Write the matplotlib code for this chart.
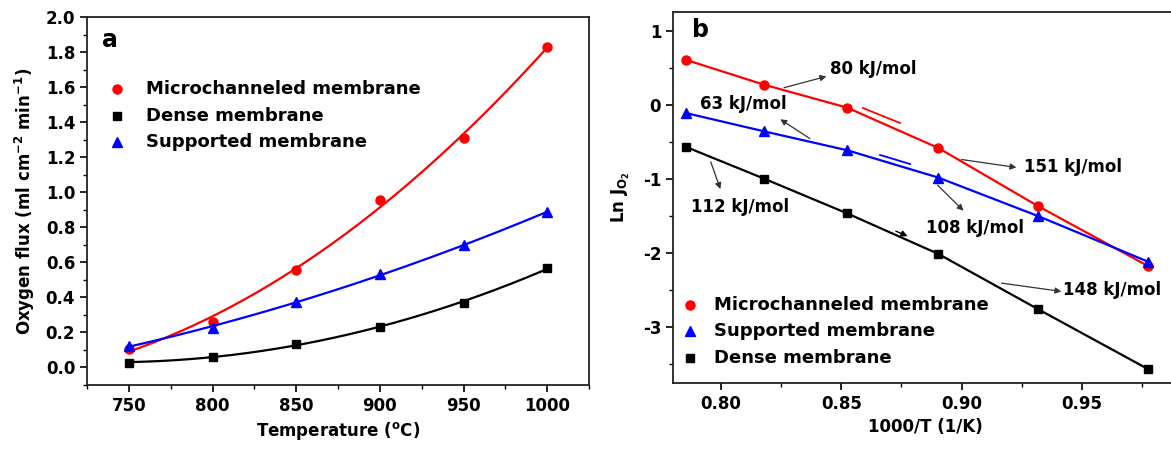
import numpy as np
import matplotlib
matplotlib.use('Agg')
import matplotlib.pyplot as plt
from matplotlib.ticker import MultipleLocator

plt.rcParams['font.family'] = ['DejaVu Sans']
plt.rcParams['font.weight'] = 'bold'
plt.rcParams['mathtext.default'] = 'bf'

# panel a data
temp = [750, 800, 850, 900, 950, 1000]
flux_micro = [0.108, 0.26, 0.558, 0.957, 1.312, 1.826]
flux_dense = [0.028, 0.061, 0.133, 0.231, 0.37, 0.567]
flux_supp = [0.123, 0.227, 0.373, 0.531, 0.698, 0.887]

# panel b data
inv_t = [0.7854, 0.8177, 0.8525, 0.8903, 0.9318, 0.9774]
ln_micro = [0.605, 0.272, -0.04, -0.582, -1.366, -2.171]
ln_supp = [-0.112, -0.357, -0.614, -0.981, -1.50, -2.113]
ln_dense = [-0.568, -0.994, -1.465, -2.01, -2.755, -3.56]

# activation energy labels: text, text pos, arrow tail, arrow head
ea_labels = [
    ('80 kJ/mol', (0.8454, 0.485), (0.8262, 0.23), (0.8438, 0.382)),
    ('63 kJ/mol', (0.7911, 0.015), (0.8369, -0.456), (0.8246, -0.196)),
    ('112 kJ/mol', (0.7874, -1.374), (0.7957, -0.769), (0.7997, -1.137)),
    ('151 kJ/mol', (0.9258, -0.837), (0.900, -0.738), (0.9228, -0.845)),
    ('108 kJ/mol', (0.8854, -1.665), (0.890, -1.083), (0.9008, -1.428)),
    ('148 kJ/mol', (0.9423, -2.494), (0.9166, -2.404), (0.9415, -2.516)),
]

RED = '#ff0000'
BLUE = '#0000ff'
BLK = '#000000'

fig = plt.figure(figsize=(11.71, 4.5), dpi=100)
ax1 = fig.add_axes([87/1171, 65/450, 502/1171, 368/450])
ax2 = fig.add_axes([673/1171, 67/450, 505/1171, 371/450])

def style_axis(ax):
    for s in ax.spines.values():
        s.set_linewidth(1.3)
        s.set_color('#222222')
    ax.tick_params(which='major', direction='out', length=5, width=1.2,
                   labelsize=12, top=False, right=False)
    ax.tick_params(which='minor', direction='out', length=3, width=1.0,
                   top=False, right=False)

# ---- panel a ----
xs = np.linspace(750, 1000, 200)
for y, c, m, ms in [(flux_micro, RED, 'o', 6.5), (flux_dense, BLK, 's', 6),
                    (flux_supp, BLUE, '^', 7)]:
    p = np.polyfit(temp, y, 2)
    ax1.plot(xs, np.polyval(p, xs), color=c, lw=1.6)
    ax1.plot(temp, y, ls='none', marker=m, color=c, ms=ms)

ax1.set_xlim(725, 1025)
ax1.set_ylim(-0.1, 2.0)
ax1.xaxis.set_major_locator(MultipleLocator(50))
ax1.xaxis.set_minor_locator(MultipleLocator(25))
ax1.yaxis.set_major_locator(MultipleLocator(0.2))
ax1.yaxis.set_minor_locator(MultipleLocator(0.1))
ax1.yaxis.set_major_formatter(matplotlib.ticker.FormatStrFormatter('%.1f'))
style_axis(ax1)
ax1.set_xlabel('Temperature ($^{o}$C)', fontsize=12, fontweight='bold', labelpad=4)
ax1.set_ylabel('Oxygen flux (ml cm$^{-2}$ min$^{-1}$)', fontsize=12,
               fontweight='bold', labelpad=6)
ax1.text(733.8, 1.867, 'a', fontsize=17, fontweight='bold', va='center')

leg_a = [('Microchanneled membrane', RED, 'o', 6.5, 1.587),
         ('Dense membrane', BLK, 's', 6, 1.437),
         ('Supported membrane', BLUE, '^', 7, 1.289)]
for lab, c, m, ms, yy in leg_a:
    ax1.plot([742.7], [yy], marker=m, color=c, ms=ms, ls='none')
    ax1.text(760.4, yy, lab, fontsize=13, fontweight='bold', va='center')

# ---- panel b ----
ax2.plot(inv_t, ln_micro, color=RED, lw=1.6, marker='o', ms=6.5)
ax2.plot(inv_t, ln_supp, color=BLUE, lw=1.6, marker='^', ms=7)
ax2.plot(inv_t, ln_dense, color=BLK, lw=1.6, marker='s', ms=6)

# small leftover fit marks on the lines
ax2.plot([0.859, 0.8744], [-0.044, -0.246], color=RED, lw=1.3)
ax2.plot([0.8661, 0.8786], [-0.677, -0.799], color=BLUE, lw=1.3)
ax2.annotate('', xy=(0.8786, -1.786), xytext=(0.8716, -1.688),
             arrowprops=dict(arrowstyle='-|>', color=BLK, lw=1.0,
                             mutation_scale=9))

for txt, tpos, tail, head in ea_labels:
    ax2.annotate('', xy=head, xytext=tail,
                 arrowprops=dict(arrowstyle='-|>', color='#333333', lw=0.9,
                                 mutation_scale=9, shrinkA=0, shrinkB=0))
    ax2.text(tpos[0], tpos[1], txt, fontsize=12, fontweight='bold', va='center')

ax2.set_xlim(0.78, 0.99)
ax2.set_ylim(-3.75, 1.25)
ax2.xaxis.set_major_locator(MultipleLocator(0.05))
ax2.xaxis.set_minor_locator(MultipleLocator(0.025))
ax2.yaxis.set_major_locator(MultipleLocator(1))
ax2.yaxis.set_minor_locator(MultipleLocator(0.5))
ax2.xaxis.set_major_formatter(matplotlib.ticker.FormatStrFormatter('%.2f'))
ax2.yaxis.set_major_formatter(matplotlib.ticker.FormatStrFormatter('%d'))
style_axis(ax2)
ax2.spines['right'].set_visible(False)
ax2.set_xlabel('1000/T (1/K)', fontsize=12, fontweight='bold', labelpad=4)
ax2.set_ylabel('Ln J$_{O_2}$', fontsize=12, fontweight='bold', labelpad=8)
ax2.text(0.7877, 1.009, 'b', fontsize=17, fontweight='bold', va='center')

leg_b = [('Microchanneled membrane', RED, 'o', 6.5, -2.695),
         ('Supported membrane', BLUE, '^', 7, -3.054),
         ('Dense membrane', BLK, 's', 6, -3.412)]
for lab, c, m, ms, yy in leg_b:
    ax2.plot([0.7869], [yy], marker=m, color=c, ms=ms, ls='none')
    ax2.text(0.7969, yy, lab, fontsize=13, fontweight='bold', va='center')

fig.savefig('out.png', dpi=100)
